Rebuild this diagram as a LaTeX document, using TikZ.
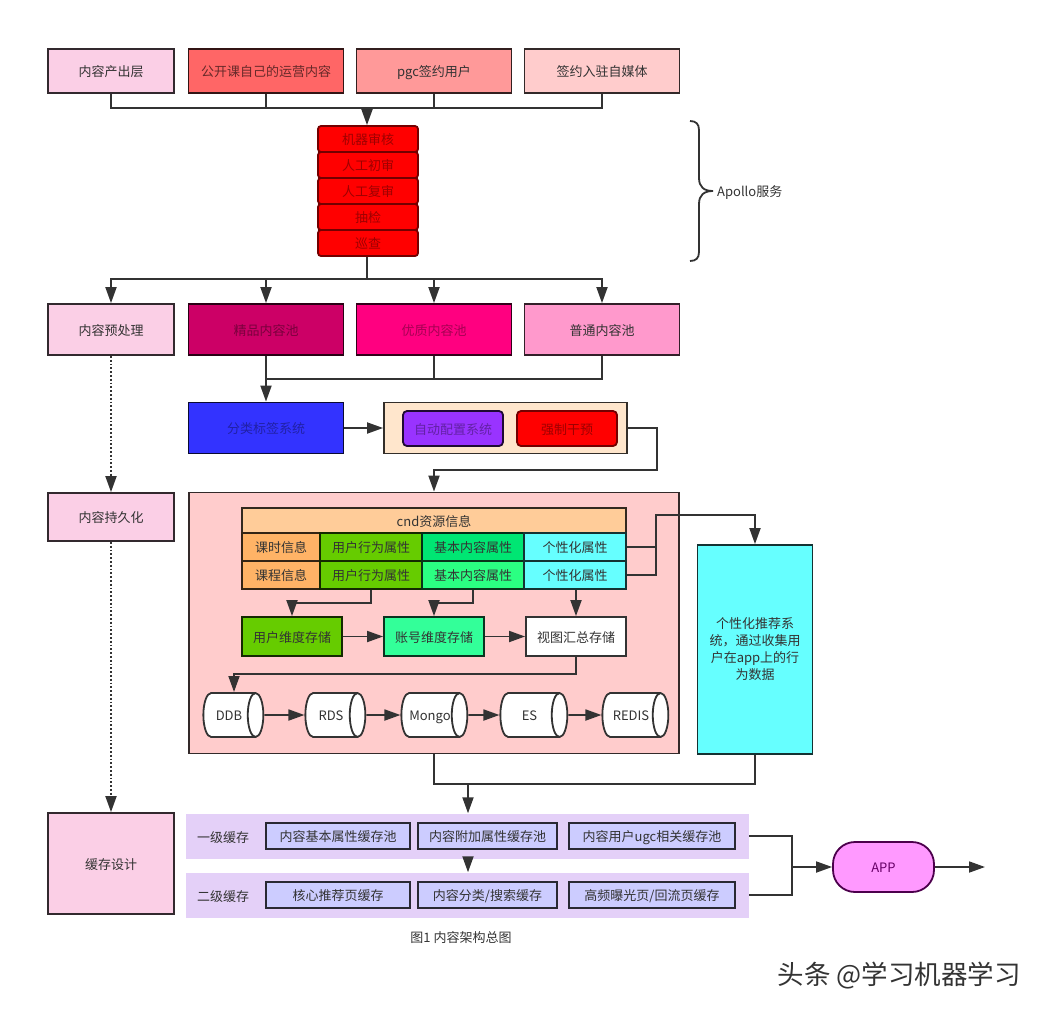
\documentclass[tikz,border=0pt]{standalone}
\usepackage{fontspec}
\setmainfont{Noto Sans CJK SC}
\usetikzlibrary{arrows.meta,shapes.geometric}
\definecolor{ink}{HTML}{333333}
\definecolor{cachelilac}{HTML}{E4D0F8}
\definecolor{cacheblue}{HTML}{CCCCFF}
\definecolor{palepink}{HTML}{FBCFE6}
\definecolor{coral}{HTML}{FF6666}
\definecolor{salmon}{HTML}{FF9999}
\definecolor{blush}{HTML}{FFCCCC}
\definecolor{wine}{HTML}{CC0066}
\definecolor{rose}{HTML}{FF0080}
\definecolor{candy}{HTML}{FF99CC}
\definecolor{royal}{HTML}{3333FF}
\definecolor{cream}{HTML}{FFE6CC}
\definecolor{grape}{HTML}{9933FF}
\definecolor{sand}{HTML}{FFCC99}
\definecolor{amber}{HTML}{FFB366}
\definecolor{greenish}{HTML}{66CC00}
\definecolor{jade}{HTML}{00E673}
\definecolor{mint}{HTML}{33FF99}
\definecolor{aqua}{HTML}{66FFFF}
\definecolor{orchid}{HTML}{FF99FF}
\tikzset{
    flow/.style={draw=ink, line width=1.8pt, -{Triangle[length=16pt,width=11pt]}},
    bus/.style={draw=ink, line width=1.8pt},
    dots/.style={draw=ink, line width=1.8pt, dotted, -{Triangle[length=16pt,width=11pt]}},
    flowbox/.style={draw=#1!20!black, line width=1.8pt, fill=#1, text=ink, inner sep=0pt, text height=12pt, text depth=1pt, font=\fontsize{13}{15}\selectfont},
    wbox/.style={flowbox=#1, minimum width=155pt},
    pbox/.style={flowbox=#1, minimum width=126pt},
    stackbox/.style={flowbox=red, draw=red!45!black, text=red!62!black, rounded corners=3pt, minimum width=100pt, minimum height=26pt},
    cell/.style={flowbox=#1, minimum height=28pt, minimum width=102pt},
    store/.style={flowbox=#1, minimum width=100pt, minimum height=39pt},
    disk/.style={flowbox=white, draw=ink, cylinder, shape aspect=1.2, minimum width=44pt, minimum height=#1},
    cachebox/.style={flowbox=cacheblue, minimum height=26pt},
    band/.style={fill=cachelilac, draw=none, minimum height=45pt, minimum width=563pt, inner sep=0pt},
    plain/.style={text=ink, inner sep=0pt, text height=12pt, text depth=1pt, font=\fontsize{13}{15}\selectfont},
}
\begin{document}
\begin{tikzpicture}[x=1pt, y=-1pt]
        \useasboundingbox (0,0) rectangle (1045,1010);
        % top row
        \node[pbox=palepink, minimum height=44pt] (src) at (111,71) {内容产出层};
        \node[wbox=coral, minimum height=44pt, text=coral!40!black] (src1) at (266,71) {公开课自己的运营内容};
        \node[wbox=salmon, minimum height=44pt] (src2) at (434,71) {pgc签约用户};
        \node[wbox=blush, minimum height=44pt] (src3) at (602,71) {签约入驻自媒体};
        \coordinate (srcbus) at (367,108);
        \draw[bus] (src.south) |- (srcbus);
        \draw[bus] (src1.south) -- (src1.south |- srcbus);
        \draw[bus] (src2.south) -- (src2.south |- srcbus);
        \draw[bus] (src3.south) |- (srcbus);
        % review stack
        \node[stackbox] (rev1) at (368,139) {机器审核};
        \node[stackbox] (rev2) at (368,165) {人工初审};
        \node[stackbox] (rev3) at (368,191) {人工复审};
        \node[stackbox] (rev4) at (368,217) {抽检};
        \node[stackbox] (rev5) at (368,243) {巡查};
        \draw[flow] (srcbus) -- (rev1.north -| srcbus);
        % apollo brace
        \draw[bus] (690,121) .. controls (696,121) and (699,124) .. (699,130) -- (699,178) .. controls (699,187) and (704,191) .. (713,191) .. controls (704,191) and (699,195) .. (699,204) -- (699,252) .. controls (699,258) and (696,261) .. (690,261);
        \node[plain, anchor=west] (apollo) at (717,191) {Apollo服务};
        % pools
        \node[pbox=palepink, minimum height=51pt] (pre) at (111,329.5) {内容预处理};
        \node[wbox=wine, minimum height=51pt, text=wine!60!black] (pool1) at (266,329.5) {精品内容池};
        \node[wbox=rose, minimum height=51pt, text=rose!65!black] (pool2) at (434,329.5) {优质内容池};
        \node[wbox=candy, minimum height=51pt] (pool3) at (602,329.5) {普通内容池};
        \coordinate (revbus) at (367,279);
        \draw[bus] (rev5.south -| revbus) -- (revbus);
        \draw[flow] (revbus) -| (pre.north);
        \draw[flow] (revbus) -| (pool1.north);
        \draw[flow] (revbus) -| (pool2.north);
        \draw[flow] (revbus) -| (pool3.north);
        % tagging and config
        \node[wbox=royal, minimum height=51pt, text=royal!65!black] (tag) at (266,428) {分类标签系统};
        \node[flowbox=cream, minimum width=243pt, minimum height=51pt] (cfg) at (505.5,428) {};
        \node[flowbox=grape, text=grape!65!black, rounded corners=4pt, minimum width=100pt, minimum height=35pt] (auto) at (453,428.5) {自动配置系统};
        \node[flowbox=red, draw=red!45!black, text=red!62!black, rounded corners=4pt, minimum width=100pt, minimum height=35pt] (force) at (567,428.5) {强制干预};
        \draw[flow] (pool1.south) -- (tag.north -| pool1.south);
        \coordinate (poolbus) at (434,379);
        \draw[bus] (pool2.south) -- (poolbus);
        \draw[bus] (pool3.south) |- (pool1.south |- poolbus);
        \draw[flow] (tag.east) -- (cfg.west);
        % persist
        \node[pbox=palepink, minimum height=48pt] (keep) at (111,517) {内容持久化};
        \node[flowbox=blush, minimum width=490pt, minimum height=261pt] (main) at (434,623) {};
        \coordinate (cfgturn) at (657,470);
        \draw[flow] (cfg.east) -| (cfgturn) -| (main.north);
        \draw[dots] (pre.south) -- (keep.north);
        % cdn table
        \node[flowbox=sand, minimum width=384pt, minimum height=25pt] (cdn) at (434,520.5) {cnd资源信息};
        \node[cell=amber, minimum width=78pt] (a1) at (281,547) {课时信息};
        \node[cell=amber, minimum width=78pt] (a2) at (281,575) {课程信息};
        \node[cell=greenish] (b1) at (371,547) {用户行为属性};
        \node[cell=greenish] (b2) at (371,575) {用户行为属性};
        \node[cell=jade] (c1) at (473,547) {基本内容属性};
        \node[cell=mint!85!green] (c2) at (473,575) {基本内容属性};
        \node[cell=aqua] (d1) at (575,547) {个性化属性};
        \node[cell=aqua] (d2) at (575,575) {个性化属性};
        % stores
        \node[store=greenish] (st1) at (292,636.5) {用户维度存储};
        \node[store=mint] (st2) at (434,636.5) {账号维度存储};
        \node[store=white, draw=ink] (st3) at (576,636.5) {视图汇总存储};
        \coordinate (t1) at (371,603);
        \coordinate (t2) at (473,603);
        \draw[flow] (b2.south) -- (t1) -| (st1.north);
        \draw[flow] (c2.south) -- (t2) -| (st2.north);
        \draw[flow] (st3.north |- d2.south) -- (st3.north);
        \draw[flow] (st1.east) -- (st2.west);
        \draw[flow] (st2.east) -- (st3.west);
        % disks
        \node[disk=60pt] (ddb) at (229,715) {DDB};
        \node[disk=60pt] (rds) at (331,715) {RDS};
        \node[disk=66pt] (mongo) at (430,715) {Mongo};
        \node[disk=67pt] (es) at (529.5,715) {ES};
        \node[disk=66pt] (redis) at (631,715) {REDIS};
        \coordinate (t3) at (576,674);
        \coordinate (ddbtop) at (234,692);
        \draw[flow] (st3.south) -- (t3) -| (ddbtop);
        \draw[flow] (ddb.east) -- (rds.west);
        \draw[flow] (rds.east) -- (mongo.west);
        \draw[flow] (mongo.east) -- (es.west);
        \draw[flow] (es.east) -- (redis.west);
        % recommender
        \node[flowbox=aqua, text height=, text depth=, font=\fontsize{13}{17}\selectfont, minimum width=115pt, minimum height=209pt, align=center] (rec) at (755,649.5) {个性化推荐系\\统，通过收集用\\户在app上的行\\为数据};
        \coordinate (t4) at (656,515);
        \draw[bus] (d1.east) -- (d1.east -| t4);
        \draw[flow] (d2.east) -| (t4) -| (rec.north);
        % cache
        \node[pbox=palepink, minimum height=101pt] (cache) at (111,863.5) {缓存设计};
        \draw[dots] (keep.south) -- (cache.north);
        \node[band] (lv1) at (467.5,836) {};
        \node[band] (lv2) at (467.5,895) {};
        \node[plain] (lv1t) at (223,837) {一级缓存};
        \node[plain] (lv2t) at (223,896) {二级缓存};
        \node[cachebox, minimum width=144pt] (k1) at (338,836) {内容基本属性缓存池};
        \node[cachebox, minimum width=139pt] (k2) at (487.5,836) {内容附加属性缓存池};
        \node[cachebox, minimum width=166pt] (k3) at (652,836) {内容用户ugc相关缓存池};
        \node[cachebox, minimum width=144pt] (m1) at (338,895) {核心推荐页缓存};
        \node[cachebox, minimum width=139pt] (m2) at (487.5,895) {内容分类/搜索缓存};
        \node[cachebox, minimum width=166pt] (m3) at (652,895) {高频曝光页/回流页缓存};
        \coordinate (t5) at (468,784);
        \draw[bus] (main.south) |- (t5);
        \draw[bus] (rec.south) |- (t5);
        \draw[flow] (t5) -- (lv1.north -| t5);
        \draw[flow] (lv1.south -| t5) -- (lv2.north -| t5);
        % app
        \node[flowbox=orchid, draw=violet!60!black, text=violet!80!black, rounded corners=22pt, minimum width=101pt, minimum height=50pt] (app) at (883.5,867) {APP};
        \coordinate (t6) at (792,867);
        \coordinate (out) at (985,867);
        \draw[bus] (lv1.east) -| (t6);
        \draw[bus] (lv2.east) -| (t6);
        \draw[flow] (t6) -- (app.west);
        \draw[flow] (app.east) -- (out);
        % caption and mark
        \node[plain] (cap) at (461,937) {图1 内容架构总图};
        \node[plain, text height=24pt, text depth=2pt, font=\fontsize{26.5}{30}\selectfont] (mark) at (899,973) {头条 @学习机器学习};
\end{tikzpicture}
\end{document}
